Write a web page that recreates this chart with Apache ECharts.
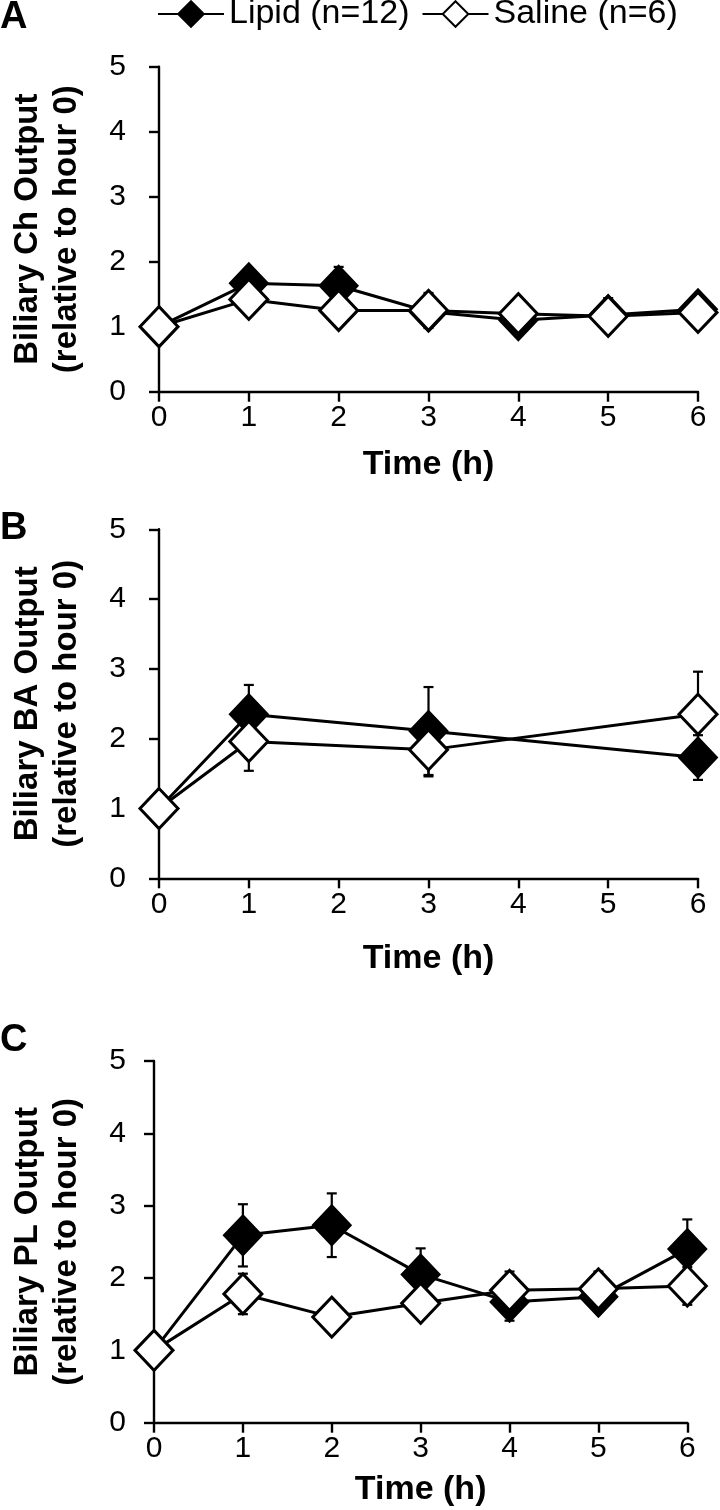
<!DOCTYPE html>
<html>
<head>
<meta charset="utf-8">
<script src="https://cdn.jsdelivr.net/npm/echarts@6/dist/echarts.min.js"></script>
<style>
html,body{margin:0;padding:0;background:#fff;}
#chart{width:720px;height:1510px;}
</style>
</head>
<body>
<div id="chart"></div>
<script>
// ---- Data ----
const seriesNames = ['Lipid (n=12)', 'Saline (n=6)'];
const panelLetters = ['A', 'B', 'C'];
const yTitles = ['Biliary Ch Output\n(relative to hour 0)', 'Biliary BA Output\n(relative to hour 0)', 'Biliary PL Output\n(relative to hour 0)'];
const xTitle = 'Time (h)';
const xTicks = [0, 1, 2, 3, 4, 5, 6];
const yTicks = [0, 1, 2, 3, 4, 5];

// Panel A: cholesterol
const hoursA = [0, 1, 2, 3, 4, 5, 6];
const lipidA = [1.00, 1.67, 1.63, 1.23, 1.10, 1.18, 1.27];
const lipidSemA = [0, 0.12, 0.29, 0.10, 0.10, 0.26, 0.10];
const salineA = [1.00, 1.42, 1.25, 1.25, 1.20, 1.16, 1.22];
const salineSemA = [0, 0.10, 0.20, 0.27, 0.10, 0.10, 0.10];

// Panel B: bile acids
const hoursB = [0, 1, 3, 6];
const lipidB = [1.00, 2.35, 2.11, 1.73];
const lipidSemB = [0, 0.42, 0.63, 0.32];
const salineB = [1.00, 1.96, 1.84, 2.35];
const salineSemB = [0, 0.42, 0.38, 0.61];

// Panel C: phospholipids
const hoursC = [0, 1, 2, 3, 4, 5, 6];
const lipidC = [1.00, 2.59, 2.73, 2.05, 1.67, 1.74, 2.40];
const lipidSemC = [0, 0.43, 0.44, 0.36, 0.26, 0.10, 0.41];
const salineC = [1.00, 1.78, 1.46, 1.65, 1.83, 1.85, 1.89];
const salineSemC = [0, 0.28, 0.15, 0.15, 0.26, 0.24, 0.26];

// ---- Layout ----
const FONT = '"Liberation Sans", Arial, Helvetica, sans-serif';
const panels = [
  {hours: hoursA, lipid: lipidA, lipidSem: lipidSemA, saline: salineA, salineSem: salineSemA,
   grid: {left: 146.7, top: 66.7, width: 551.3, height: 325}, yGap: 73, yMargin: 33, xGap: 56, letterY: 18},
  {hours: hoursB, lipid: lipidB, lipidSem: lipidSemB, saline: salineB, salineSem: salineSemB,
   grid: {left: 146.7, top: 529.3, width: 551.3, height: 349}, yGap: 73, yMargin: 33, xGap: 63, letterY: 529},
  {hours: hoursC, lipid: lipidC, lipidSem: lipidSemC, saline: salineC, salineSem: salineSemC,
   grid: {left: 141.7, top: 1061, width: 545.6, height: 361.7}, yGap: 68, yMargin: 28, xGap: 50, letterY: 1041}
];

function pairs(xs, ys) { return xs.map((x, i) => [x, ys[i]]); }
function triples(xs, ys, es) { return xs.map((x, i) => [x, ys[i], es[i]]); }

function renderErr(params, api) {
  const x = api.value(0), y = api.value(1), e = api.value(2);
  if (!e) return null;
  const t = api.coord([x, y + e]);
  const b = api.coord([x, y - e]);
  const w = 5;
  const st = {stroke: '#000', lineWidth: 2.2};
  return {type: 'group', children: [
    {type: 'line', shape: {x1: t[0], y1: t[1], x2: b[0], y2: b[1]}, style: st},
    {type: 'line', shape: {x1: t[0] - w, y1: t[1], x2: t[0] + w, y2: t[1]}, style: st},
    {type: 'line', shape: {x1: b[0] - w, y1: b[1], x2: b[0] + w, y2: b[1]}, style: st}
  ]};
}

const grids = [], xAxes = [], yAxes = [], series = [], graphics = [];
panels.forEach((p, i) => {
  grids.push(Object.assign({containLabel: false}, p.grid));
  const axisLine = {show: true, lineStyle: {color: '#000', width: 2.4}};
  const axisTick = {show: true, length: 10, inside: false, lineStyle: {color: '#000', width: 2.4}};
  xAxes.push({
    gridIndex: i, type: 'value', min: xTicks[0], max: xTicks[xTicks.length - 1], interval: 1,
    axisLine: Object.assign({onZero: false}, axisLine), axisTick: axisTick, splitLine: {show: false},
    axisLabel: {color: '#000', fontSize: 30, fontFamily: FONT, margin: 11},
    name: xTitle, nameLocation: 'middle', nameGap: p.xGap,
    nameTextStyle: {color: '#000', fontSize: 34, fontWeight: 'bold', fontFamily: FONT}
  });
  yAxes.push({
    gridIndex: i, type: 'value', min: yTicks[0], max: yTicks[yTicks.length - 1], interval: 1,
    axisLine: axisLine, axisTick: axisTick, splitLine: {show: false},
    axisLabel: {color: '#000', fontSize: 30, fontFamily: FONT, margin: p.yMargin},
    name: yTitles[i], nameLocation: 'middle', nameRotate: 90, nameGap: p.yGap,
    nameTextStyle: {color: '#000', fontSize: 33, fontWeight: 'bold', fontFamily: FONT, lineHeight: 39}
  });
  series.push({
    type: 'custom', xAxisIndex: i, yAxisIndex: i, z: 1, silent: true,
    renderItem: renderErr, data: triples(p.hours, p.lipid, p.lipidSem)
  });
  series.push({
    type: 'custom', xAxisIndex: i, yAxisIndex: i, z: 1, silent: true,
    renderItem: renderErr, data: triples(p.hours, p.saline, p.salineSem)
  });
  series.push({
    name: seriesNames[0], type: 'line', xAxisIndex: i, yAxisIndex: i, z: 2,
    data: pairs(p.hours, p.lipid), symbol: 'diamond', symbolSize: [38, 40], showAllSymbol: true,
    lineStyle: {color: '#000', width: 3},
    itemStyle: {color: '#000', borderColor: '#000', borderWidth: 2}
  });
  series.push({
    name: seriesNames[1], type: 'line', xAxisIndex: i, yAxisIndex: i, z: 3,
    data: pairs(p.hours, p.saline), symbol: 'diamond', symbolSize: [38, 40], showAllSymbol: true,
    lineStyle: {color: '#000', width: 3},
    itemStyle: {color: '#fff', borderColor: '#000', borderWidth: 3}
  });
  graphics.push({
    type: 'text', x: 0, y: p.letterY,
    style: {text: panelLetters[i], fontSize: 38, fontWeight: 'bold', fontFamily: FONT,
            fill: '#000', verticalAlign: 'middle', align: 'left'}
  });
});

const chart = echarts.init(document.getElementById('chart'), null, {renderer: 'canvas'});
chart.setOption({
  animation: false,
  backgroundColor: '#fff',
  legend: {
    data: seriesNames, left: 157, top: -3, padding: 0, itemGap: 12,
    itemWidth: 66, itemHeight: 32,
    textStyle: {color: '#000', fontSize: 34, fontFamily: FONT},
    selectedMode: false
  },
  grid: grids, xAxis: xAxes, yAxis: yAxes, series: series, graphic: graphics
});
</script>
</body>
</html>
